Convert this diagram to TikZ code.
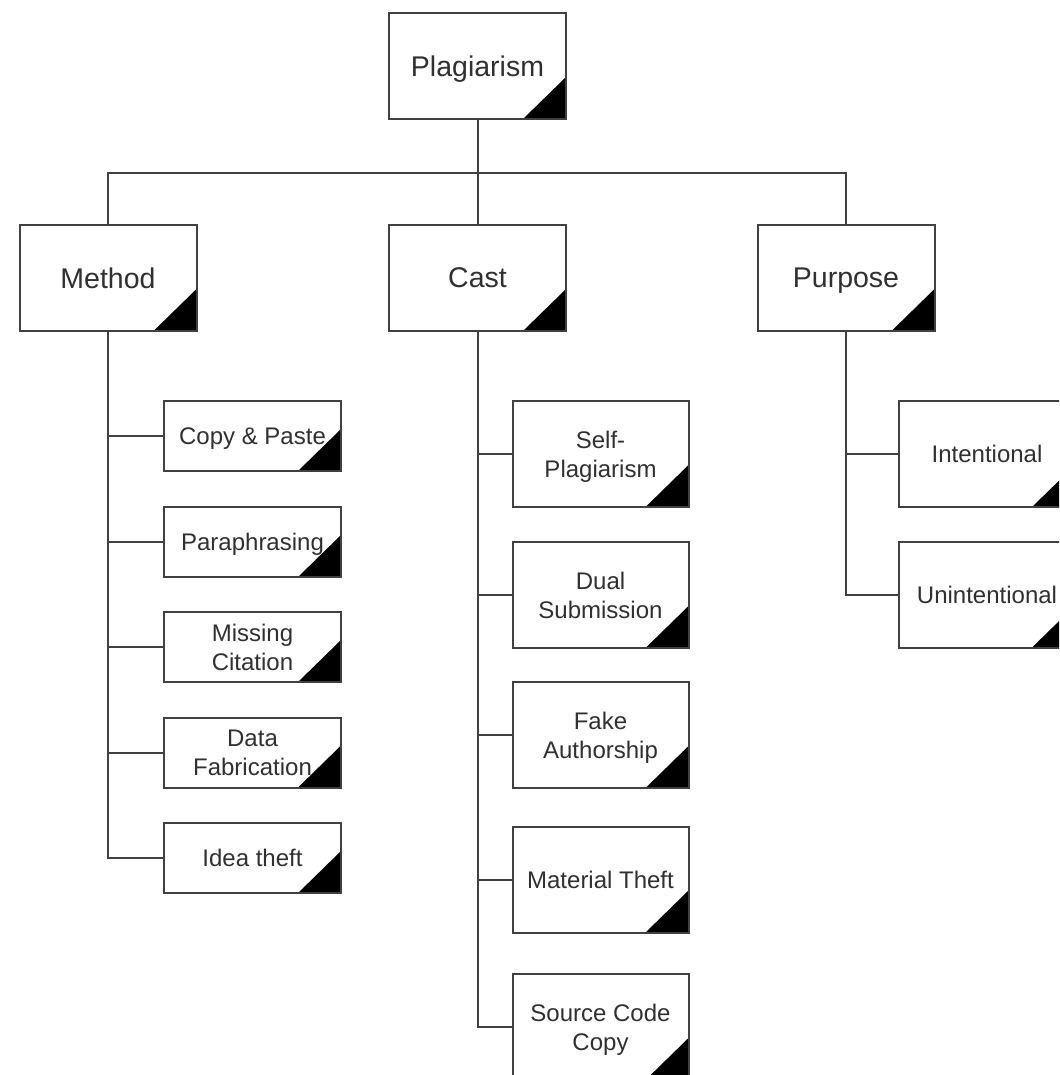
\documentclass[tikz,border=0pt]{standalone}
\usepackage{fontspec}
\setmainfont{Liberation Sans}
\definecolor{linec}{HTML}{404040}
\definecolor{textc}{HTML}{303030}
\begin{document}
\begin{tikzpicture}[x=1pt,y=-1pt,
  boxbase/.style={draw=linec, line width=2pt, fill=white, inner sep=0pt,
    text=textc, align=center, text depth=0pt,
    path picture={\fill[black] (path picture bounding box.south east) -- ++(-43,0) -- ++(43,-42) -- cycle;}},
  topbox/.style={boxbase, minimum width=177pt, minimum height=106pt, font=\fontsize{28.5}{33}\selectfont},
  leafbox/.style={boxbase, minimum width=176pt, minimum height=106pt, font=\fontsize{24}{29}\selectfont},
  smallbox/.style={boxbase, minimum width=177pt, minimum height=70pt, font=\fontsize{24}{29}\selectfont},
  conn/.style={draw=linec, line width=2pt}]
\useasboundingbox (0,0) rectangle (1059,1075);
\clip (0,0) rectangle (1059,1075);
\fill[white] (0,0) rectangle (1059,1075);

% top level
\node[topbox] (P) at (477.5,66) {Plagiarism};
\node[topbox] (M) at (108,278) {Method};
\node[topbox] (C) at (477.5,278) {Cast};
\node[topbox] (U) at (846,278) {Purpose};

% method children
\node[smallbox] (m1) at (252.5,436) {Copy \& Paste};
\node[smallbox] (m2) at (252.5,542) {Paraphrasing};
\node[smallbox] (m3) at (252.5,647) {Missing\\Citation};
\node[smallbox] (m4) at (252.5,752.5) {Data\\Fabrication};
\node[smallbox] (m5) at (252.5,858) {Idea theft};

% cast children
\node[leafbox] (c1) at (600.5,454) {Self-\\Plagiarism};
\node[leafbox] (c2) at (600.5,595) {Dual\\Submission};
\node[leafbox] (c3) at (600.5,735) {Fake\\Authorship};
\node[leafbox] (c4) at (600.5,879.5) {Material Theft};
\node[leafbox] (c5) at (600.5,1027) {Source Code\\Copy};

% purpose children
\node[leafbox] (u1) at (987,454) {Intentional};
\node[leafbox] (u2) at (987,594.5) {Unintentional};

% connectors
\coordinate (bus) at (477.5,173);
\draw[conn] (P.south) -- (bus);
\draw[conn] (M.north) |- (bus) -| (U.north);
\draw[conn] (C.north) -- (bus);

\draw[conn] (M.south) |- (m5.west);
\foreach \n in {m1,m2,m3,m4} \draw[conn] (\n.west) -- (\n.west -| M.south);

\draw[conn] (C.south) |- (c5.west);
\foreach \n in {c1,c2,c3,c4} \draw[conn] (\n.west) -- (\n.west -| C.south);

\draw[conn] (U.south) |- (u2.west);
\draw[conn] (u1.west) -- (u1.west -| U.south);
\end{tikzpicture}
\end{document}
